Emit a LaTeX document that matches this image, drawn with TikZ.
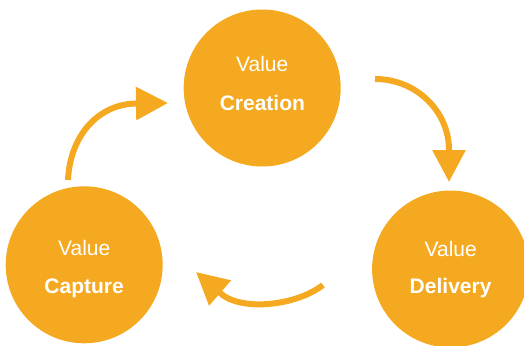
\documentclass[tikz,border=0pt]{standalone}
\usepackage{fontspec}
\setmainfont{Liberation Sans}
\usetikzlibrary{arrows.meta}
\definecolor{vorange}{RGB}{245,169,32}
\tikzset{
  bubble/.style={circle, fill=vorange, draw=none, minimum size=157pt, inner sep=0pt},
  thin label/.style={text=white, font=\fontsize{21}{25}\selectfont, anchor=base},
  bold label/.style={text=white, font=\fontsize{21}{25}\selectfont\bfseries, anchor=base},
  flow/.style={draw=vorange, line width=6pt, -{Triangle[length=32pt,width=32pt]}}
}
\begin{document}
\begin{tikzpicture}[x=1pt,y=-1pt]
\useasboundingbox (0,0) rectangle (524,345);
% circles
\node[bubble] (creation) at (262.2,88) {};
\node[bubble] (capture) at (84.2,264.8) {};
\node[bubble] (delivery) at (450.6,269) {};
% labels
\node[thin label] (t1) at (262.2,71.7) {Value};
\node[bold label] (b1) at (262.4,110.7) {Creation};
\node[thin label] (t2) at (84.2,255) {Value};
\node[bold label] (b2) at (84.1,293.3) {Capture};
\node[thin label] (t3) at (450.7,256) {Value};
\node[bold label] (b3) at (450.6,293.3) {Delivery};
% arrow ends
\coordinate (a1s) at (375,79);
\coordinate (a1b) at (449,150);
\coordinate (a1t) at (449,182);
\coordinate (a2s) at (323,285);
\coordinate (a2b) at (219.5,292.5);
\coordinate (a2t) at (196,272);
\coordinate (a3s) at (68,180);
\coordinate (a3b) at (137,103.5);
\coordinate (a3t) at (168,103);
% arrows
\draw[flow] (a1s) .. controls (416,79) and (449,111) .. (a1b) -- (a1t);
\draw[flow] (a2s) .. controls (296,306) and (240,312) .. (a2b) -- (a2t);
\draw[flow] (a3s) .. controls (70,135) and (99,103.5) .. (a3b) -- (a3t);
\end{tikzpicture}
\end{document}
